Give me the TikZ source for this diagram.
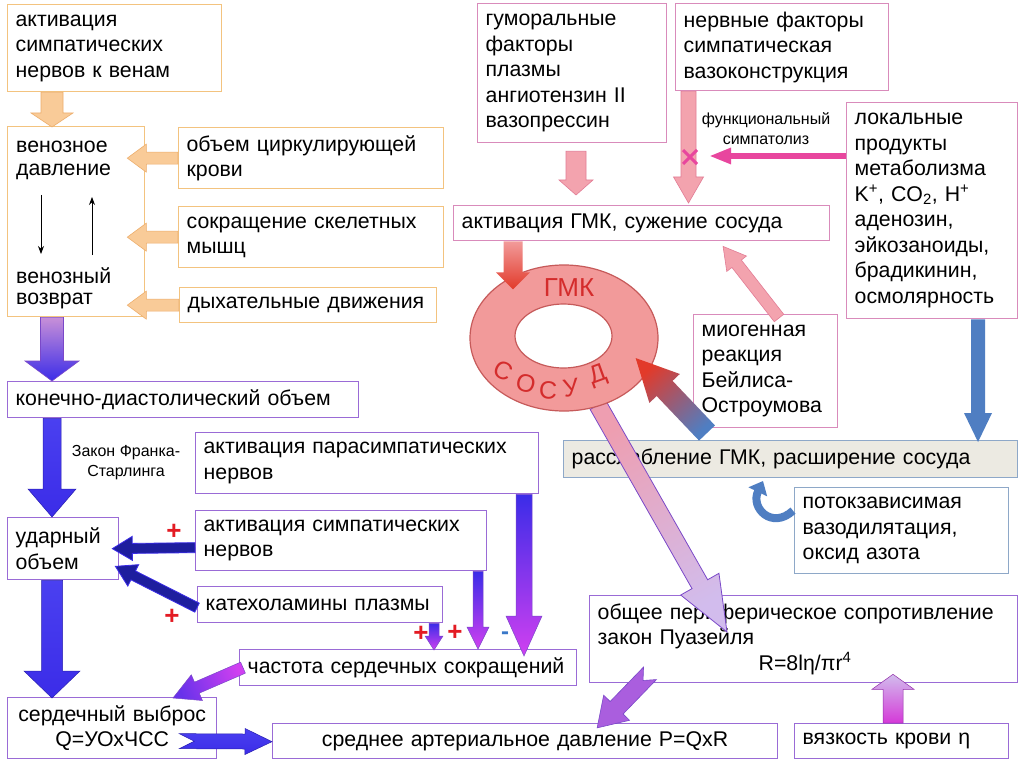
\documentclass[tikz,border=0pt]{standalone}
\usepackage{fontspec}
\setmainfont{Liberation Sans}
\usetikzlibrary{calc,arrows.meta,shapes.geometric}
\definecolor{orB}{HTML}{F3C37F}
\definecolor{orF}{HTML}{F9CB98}
\definecolor{orD}{HTML}{EDAE6C}
\definecolor{pkB}{HTML}{D98BBB}
\definecolor{pkF}{HTML}{F3A3AE}
\definecolor{pkD}{HTML}{E27C95}
\definecolor{viB}{HTML}{9A6BD6}
\definecolor{grB}{HTML}{8EA8C8}
\definecolor{qF}{HTML}{ECEAE2}
\definecolor{blueA}{HTML}{3B2CE8}
\definecolor{blueL}{HTML}{4A40F0}
\definecolor{blueD}{HTML}{2A20B0}
\definecolor{navy}{HTML}{1E1E9E}
\definecolor{puL}{HTML}{C890D8}
\definecolor{puD}{HTML}{7A48C8}
\definecolor{magL}{HTML}{D040F0}
\definecolor{steel}{HTML}{4F7EC2}
\definecolor{mag}{HTML}{E8469E}
\definecolor{ringF}{HTML}{F29A9A}
\definecolor{ringD}{HTML}{C65A5A}
\definecolor{ringT}{HTML}{D42C2C}
\definecolor{redA}{HTML}{E23A2A}
\definecolor{redP}{HTML}{E31B23}
\definecolor{minB}{HTML}{3A78C8}
\newcommand\fmain{\fontsize{21.3}{25.5}\selectfont}
\newcommand\fsmall{\fontsize{16}{20}\selectfont}
% block arrow: [style]{from}{to}{shaft half}{head half}{head length}{tail notch}
\newcommand\barr[7][]{%
  \path[#1] let \p1=(#2), \p2=(#3), \n1={atan2(\y2-\y1,\x2-\x1)}, \n2={veclen(\x2-\x1,\y2-\y1)} in
  [shift={(\p1)}, rotate=\n1] (#7,0) -- (0,#4) -- (\n2-#6,#4) -- (\n2-#6,#5) -- (\n2,0) -- (\n2-#6,-#5) -- (\n2-#6,-#4) -- (0,-#4) -- cycle;}
\tikzset{
  bx/.style={draw, line width=1.3pt, rectangle, anchor=north west, inner xsep=8pt, inner ysep=2pt, align=left, font=\fmain, fill=white},
  ob/.style={bx, draw=orB},
  pb/.style={bx, draw=pkB},
  vb/.style={bx, draw=viB},
  gb/.style={bx, draw=grB},
  txt/.style={font=\fmain, inner sep=0pt, anchor=west},
  oa/.style={fill=orF, draw=orD, line width=0.6pt},
  pa/.style={top color=puL, bottom color=blueA, draw=puD, line width=0.6pt},
  ba/.style={top color=blueL, bottom color=blueA, draw=blueD, line width=0.5pt},
  na/.style={fill=navy, draw=blueA, line width=0.8pt},
  bm/.style={top color=blueA, bottom color=magL, draw=puD, line width=0.5pt},
  nm/.style={top color=magL, bottom color=blueA!70!magL, shading angle=-66.4, draw=puD, line width=0.5pt},
  qr/.style={top color=steel, bottom color=redA, shading angle=222},
  rtp/.style={top color=pkF!80!pkB, bottom color=viB!45!white, shading angle=29.6, draw=puD, line width=0.8pt},
  ut/.style={top color=magL!90!red, bottom color=viB!45!white, shading angle=180, draw=magL!70!black, line width=0.5pt},
  vr/.style={top color=ringF, bottom color=redA},
  pka/.style={fill=pkF, draw=pkD, line width=0.6pt},
  sa/.style={fill=steel},
  tpa/.style={fill=viB!70!magL, draw=puD, line width=0.6pt},
  plus/.style={text=redP, font=\bfseries\fontsize{26}{26}\selectfont, inner sep=0pt},
  rlet/.style={text=ringT, font=\fontsize{25}{25}\selectfont, inner sep=0pt},
}
\begin{document}
\begin{tikzpicture}[x=1pt,y=-1pt]
\useasboundingbox (0,0) rectangle (1024,767);
\fill[white] (0,0) rectangle (1024,767);
% ---------- boxes
\node[ob, minimum width=214pt, minimum height=87pt, text width=198pt] (A) at (7,4) {активация\\симпатических\\нервов к венам};
\node[ob, minimum width=137pt, minimum height=190pt] (B) at (7,126) {};
\node[ob, minimum width=265pt, minimum height=61pt, text width=249pt] (C) at (178,127) {объем циркулирующей\\крови};
\node[ob, minimum width=265pt, minimum height=61pt, text width=249pt] (D) at (178,206) {сокращение скелетных\\мышц};
\node[ob, minimum width=257pt, minimum height=35pt, text width=241pt] (E) at (179,287) {дыхательные движения};
\node[pb, minimum width=189pt, minimum height=139pt, text width=173pt] (F) at (477,3) {гуморальные\\факторы\\плазмы\\ангиотензин II\\вазопрессин};
\node[pb, minimum width=213pt, minimum height=87pt, text width=197pt] (G) at (675,3) {нервные факторы\\симпатическая\\вазоконструкция};
\node[pb, minimum width=171pt, minimum height=216pt, text width=155pt] (H) at (846,102) {локальные\\продукты\\метаболизма\\K\textsuperscript{+}, CO\textsubscript{2}, H\textsuperscript{+}\\аденозин,\\эйкозаноиды,\\брадикинин,\\осмолярность};
\node[pb, minimum width=376pt, minimum height=35pt, text width=360pt] (V) at (453,205) {активация ГМК, сужение сосуда};
\node[pb, minimum width=144pt, minimum height=113pt, text width=128pt] (R) at (693,314) {миогенная\\реакция\\Бейлиса-\\Остроумова};
\node[gb, fill=qF, minimum width=454pt, minimum height=37pt, text width=438pt] (Q) at (563,440) {расслабление ГМК, расширение сосуда};
\node[gb, minimum width=214pt, minimum height=86pt, text width=198pt] (S) at (794,487) {потокзависимая\\вазодилятация,\\оксид азота};
\node[vb, minimum width=351pt, minimum height=36pt, text width=335pt] (I) at (7,381) {конечно-диастолический объем};
\node[vb, minimum width=343pt, minimum height=61pt, text width=327pt] (K) at (195,432) {активация парасимпатических\\нервов};
\node[vb, minimum width=291pt, minimum height=60pt, text width=275pt] (L) at (195,510) {активация симпатических\\нервов};
\node[vb, minimum width=245pt, minimum height=36pt, text width=229pt] (M) at (197,586) {катехоламины плазмы};
\node[vb, minimum width=111pt, minimum height=62pt, text width=95pt] (J) at (7,517) {ударный\\объем};
\node[vb, minimum width=337pt, minimum height=36pt, text width=321pt] (N) at (239,649) {частота сердечных сокращений};
\node[vb, align=center, minimum width=209pt, minimum height=61pt, text width=193pt] (O) at (7,697) {сердечный выброс\\Q=УОхЧСС};
\node[vb, align=center, minimum width=505pt, minimum height=35pt, text width=489pt] (P) at (272,723) {среднее артериальное давление P=QxR};
\node[vb, minimum width=428pt, minimum height=87pt, text width=412pt] (T) at (589,595) {общее периферическое сопротивление\\закон Пуазейля\\\hspace*{161pt}R=8lη/πr\textsuperscript{4}};
\node[vb, minimum width=214pt, minimum height=35pt, text width=198pt] (U) at (794,723) {вязкость крови η};
% ---------- inside venous box
\node[txt] (b1) at (16,147) {венозное};
\node[txt] (b2) at (16,172) {давление};
\node[txt] (b3) at (16,276) {венозный};
\node[txt] (b4) at (16,301) {возврат};
\coordinate (d1) at (41,195); \coordinate (d2) at (41,254);
\coordinate (u1) at (92,255); \coordinate (u2) at (92,197);
\draw[-{Stealth[length=8pt,width=6pt]}, line width=0.8pt] (d1) -- (d2);
\draw[-{Stealth[length=8pt,width=6pt]}, line width=0.8pt] (u1) -- (u2);
% ---------- left column arrows
\barr[oa]{$(A.south west)+(45,0)$}{$(B.north west)+(45,1)$}{11}{21}{14}{0}
\barr[oa]{C.west}{$(C.west -| B.east)+(-18,0)$}{6}{14}{19}{0}
\barr[oa]{D.west}{$(D.west -| B.east)+(-18,0)$}{6}{14}{19}{0}
\barr[oa]{E.west}{$(E.west -| B.east)+(-18,0)$}{6}{14}{19}{0}
\barr[pa]{$(B.south west)+(45,0)$}{$(I.north west)+(45,0)$}{11.5}{27}{20}{0}
\barr[ba]{$(I.south west)+(45,0)$}{$(J.north west)+(45,0)$}{9}{24}{28}{0}
\barr[ba]{$(J.south west)+(45,0)$}{$(O.north west)+(45,1)$}{10.5}{28}{27}{0}
\barr[ba]{$(O.east)+(-38,13)$}{$(P.west)+(0,0.5)$}{7.5}{13}{27}{15}
\barr[na]{$(L.west)+(0,7)$}{$(J.east)+(-7,0)$}{5}{12}{20}{0}
\barr[na]{$(M.west)+(0,3)$}{$(J.south east)+(-4,-14)$}{5}{12}{20}{0}
\barr[bm]{$(M.south west)+(237,0)$}{$(N.north west)+(195,1)$}{5}{9}{14}{0}
\barr[bm]{$(L.south west)+(283,0)$}{$(N.north west)+(239,0)$}{5}{11}{22}{0}
\barr[bm]{$(K.south west)+(329,0)$}{$(N.north west)+(285,7)$}{8}{18}{40}{0}
\barr[nm]{$(N.west)+(4,0)$}{$(O.north west)+(166,1)$}{6}{14}{26}{0}
% labels left
\node[font=\fsmall, align=center, inner sep=0pt] (fs) at (126,463) {Закон Франка-\\Старлинга};
\node[plus] (p1) at (174,532) {+};
\node[plus] (p2) at (172,617) {+};
\node[plus] (p3) at (421,634) {+};
\node[plus] (p4) at (455,633) {+};
\node[text=minB, font=\bfseries\fontsize{24}{24}\selectfont, inner sep=0pt] (m1) at (505,636) {-};
% ---------- right side arrows
\barr[pka]{$(F.south west)+(99,8)$}{$(V.north west)+(123,-10)$}{10}{17}{15}{0}
\barr[pka]{$(G.south west)+(13.5,0)$}{$(V.north west)+(235.5,-2)$}{7.5}{15}{26}{0}
\coordinate (xtip) at (709,156);
\draw[mag, line width=6pt, -{Triangle[length=22pt,width=15pt]}] ($(H.north west)+(0,54)$) -- (xtip);
\draw[mag, line width=3pt] (683,150) -- (697,164) (683,164) -- (697,150);
\node[font=\fsmall, align=center, inner sep=0pt] (fsl) at (766,129) {функциональный\\симпатолиз};
\barr[pka]{$(R.north west)+(86,4)$}{$(V.south west)+(270,5)$}{6}{12.5}{22}{0}
\barr[sa]{$(H.south west)+(132,0)$}{$(Q.north west)+(415,2)$}{7}{14}{29}{0}
% ring and its arrows
\barr[rtp]{$(T.north west)+(9,-190)$}{$(T.north west)+(138,37)$}{9}{22}{55}{0}
\node[ellipse, draw=ringD, fill=ringF, line width=1.2pt, minimum width=188pt, minimum height=146pt, inner sep=0pt] (ring) at (564,338) {};
\node[ellipse, draw=ringD, fill=white, line width=1.2pt, minimum width=97pt, minimum height=64pt, inner sep=0pt] (hole) at (563.5,336) {};
\node[rlet, font=\fontsize{26}{26}\selectfont] (gmk) at (569,288) {ГМК};
\node[rlet, rotate=-26] (s1) at (503,371) {С};
\node[rlet, rotate=-14] (s2) at (526,383) {О};
\node[rlet, rotate=-3] (s3) at (548,390) {С};
\node[rlet, rotate=9] (s4) at (571,388) {У};
\node[rlet, rotate=20] (s5) at (598,376) {Д};
\barr[vr]{$(V.south west)+(60,0)$}{$(ring.north)+(-51,25)$}{9.5}{17}{17}{0}
\barr[qr]{$(Q.north west)+(144,-7)$}{$(ring.east)+(-23,20)$}{11}{21}{42}{0}
\coordinate (ctip) at (763,481);
\draw[steel, line width=8pt, -{Triangle[length=12pt,width=20pt]}] ($(S.west)+(-1,-20)$) .. controls (772,530) and (750,508) .. (ctip);
\barr[tpa]{$(T.south west)+(61,-10)$}{$(P.north west)+(325,5)$}{9}{18}{28}{10}
\barr[ut]{$(U.north west)+(99,0)$}{$(T.south west)+(304,-9)$}{10}{21}{15}{0}
\end{tikzpicture}
\end{document}
